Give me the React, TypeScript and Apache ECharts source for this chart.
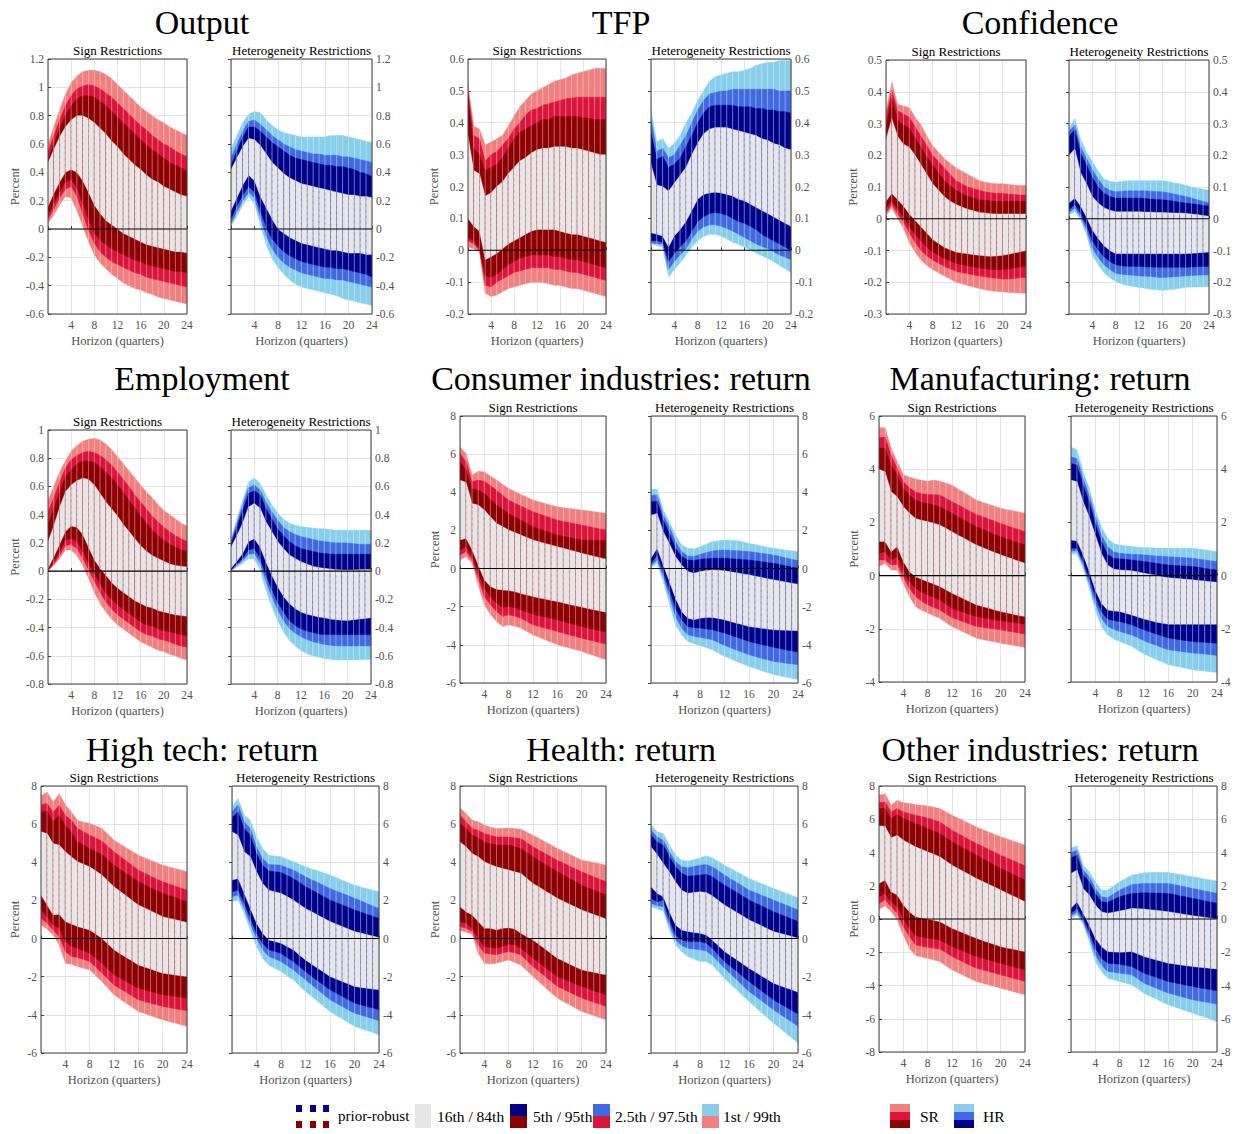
import React, { useEffect, useRef } from "react";
import * as echarts from "echarts";

// Forecast horizons (quarters)
const horizons = [0, 1, 2, 3, 4, 5, 6, 7, 8, 9, 10, 11, 12, 13, 14, 15, 16, 17, 18, 19, 20, 21, 22, 23, 24];

// Every band set lists its percentile paths in this order:
// 1st, 2.5th, 5th, 16th, 84th, 95th, 97.5th, 99th
const outputSR = [
  [0.04, 0.1, 0.17, 0.23, 0.22, 0.13, 0.02, -0.09, -0.18, -0.24, -0.28, -0.32, -0.35, -0.38, -0.4, -0.42, -0.43, -0.45, -0.46, -0.48, -0.49, -0.5, -0.51, -0.52, -0.53],
  [0.07, 0.14, 0.22, 0.28, 0.3, 0.23, 0.11, -0.01, -0.1, -0.16, -0.2, -0.23, -0.25, -0.27, -0.29, -0.31, -0.32, -0.34, -0.35, -0.36, -0.37, -0.38, -0.39, -0.4, -0.41],
  [0.1, 0.18, 0.26, 0.33, 0.35, 0.29, 0.18, 0.07, -0.03, -0.08, -0.11, -0.14, -0.16, -0.18, -0.2, -0.22, -0.23, -0.25, -0.26, -0.27, -0.28, -0.29, -0.3, -0.3, -0.31],
  [0.16, 0.25, 0.33, 0.4, 0.42, 0.4, 0.34, 0.26, 0.17, 0.11, 0.06, 0.03, 0.0, -0.03, -0.05, -0.07, -0.09, -0.11, -0.12, -0.13, -0.14, -0.15, -0.16, -0.16, -0.17],
  [0.47, 0.56, 0.65, 0.72, 0.77, 0.8, 0.8, 0.78, 0.75, 0.71, 0.67, 0.62, 0.58, 0.53, 0.49, 0.45, 0.42, 0.38, 0.35, 0.33, 0.3, 0.28, 0.26, 0.24, 0.23],
  [0.49, 0.6, 0.71, 0.8, 0.87, 0.92, 0.94, 0.94, 0.93, 0.9, 0.87, 0.83, 0.79, 0.75, 0.71, 0.67, 0.63, 0.59, 0.56, 0.53, 0.5, 0.47, 0.45, 0.43, 0.41],
  [0.55, 0.66, 0.77, 0.87, 0.94, 0.99, 1.01, 1.02, 1.01, 0.99, 0.96, 0.93, 0.89, 0.85, 0.81, 0.77, 0.73, 0.7, 0.66, 0.63, 0.6, 0.58, 0.55, 0.53, 0.51],
  [0.6, 0.72, 0.84, 0.95, 1.03, 1.08, 1.11, 1.12, 1.12, 1.11, 1.09, 1.06, 1.02, 0.98, 0.94, 0.9, 0.86, 0.83, 0.8, 0.77, 0.75, 0.72, 0.7, 0.68, 0.66],
];
const outputHR = [
  [0.02, 0.09, 0.17, 0.23, 0.18, 0.03, -0.11, -0.21, -0.27, -0.32, -0.36, -0.39, -0.41, -0.42, -0.43, -0.44, -0.45, -0.46, -0.47, -0.49, -0.5, -0.51, -0.52, -0.53, -0.54],
  [0.04, 0.12, 0.2, 0.26, 0.22, 0.08, -0.05, -0.14, -0.2, -0.24, -0.27, -0.29, -0.31, -0.32, -0.33, -0.34, -0.35, -0.35, -0.36, -0.36, -0.37, -0.38, -0.39, -0.4, -0.41],
  [0.07, 0.16, 0.24, 0.3, 0.26, 0.13, 0.01, -0.07, -0.12, -0.16, -0.19, -0.21, -0.23, -0.24, -0.25, -0.26, -0.27, -0.27, -0.28, -0.28, -0.29, -0.3, -0.31, -0.32, -0.34],
  [0.13, 0.22, 0.31, 0.38, 0.34, 0.23, 0.15, 0.07, 0.0, -0.03, -0.06, -0.08, -0.1, -0.11, -0.12, -0.13, -0.14, -0.15, -0.15, -0.16, -0.17, -0.17, -0.17, -0.18, -0.18],
  [0.42, 0.5, 0.58, 0.64, 0.63, 0.59, 0.53, 0.47, 0.43, 0.39, 0.36, 0.34, 0.32, 0.31, 0.3, 0.29, 0.28, 0.27, 0.26, 0.25, 0.24, 0.24, 0.23, 0.23, 0.22],
  [0.45, 0.55, 0.65, 0.72, 0.72, 0.69, 0.65, 0.61, 0.58, 0.55, 0.52, 0.5, 0.49, 0.48, 0.47, 0.46, 0.45, 0.45, 0.44, 0.44, 0.43, 0.42, 0.4, 0.39, 0.37],
  [0.5, 0.6, 0.69, 0.76, 0.77, 0.74, 0.7, 0.66, 0.63, 0.6, 0.58, 0.56, 0.55, 0.54, 0.53, 0.53, 0.52, 0.52, 0.52, 0.51, 0.51, 0.5, 0.49, 0.48, 0.47],
  [0.56, 0.66, 0.75, 0.81, 0.83, 0.82, 0.77, 0.73, 0.7, 0.68, 0.67, 0.66, 0.65, 0.65, 0.65, 0.65, 0.65, 0.66, 0.66, 0.66, 0.65, 0.64, 0.63, 0.62, 0.61],
];
const tfpSR = [
  [0.01, 0.005, -0.005, -0.135, -0.145, -0.14, -0.13, -0.12, -0.115, -0.11, -0.105, -0.1, -0.1, -0.1, -0.105, -0.11, -0.11, -0.115, -0.12, -0.12, -0.125, -0.13, -0.135, -0.14, -0.145],
  [0.03, 0.02, 0.0, -0.11, -0.115, -0.1, -0.09, -0.08, -0.07, -0.065, -0.06, -0.055, -0.055, -0.055, -0.055, -0.06, -0.06, -0.065, -0.07, -0.07, -0.075, -0.08, -0.085, -0.09, -0.095],
  [0.04, 0.03, 0.005, -0.08, -0.085, -0.075, -0.06, -0.045, -0.035, -0.025, -0.02, -0.015, -0.015, -0.015, -0.015, -0.02, -0.02, -0.025, -0.03, -0.03, -0.035, -0.04, -0.045, -0.05, -0.055],
  [0.1, 0.075, 0.06, -0.03, -0.02, -0.01, 0.005, 0.02, 0.03, 0.04, 0.05, 0.06, 0.065, 0.065, 0.065, 0.065, 0.06, 0.055, 0.05, 0.05, 0.045, 0.04, 0.035, 0.03, 0.025],
  [0.36, 0.25, 0.24, 0.17, 0.18, 0.2, 0.215, 0.24, 0.26, 0.28, 0.29, 0.305, 0.315, 0.32, 0.32, 0.325, 0.325, 0.325, 0.32, 0.32, 0.315, 0.31, 0.305, 0.3, 0.3],
  [0.48, 0.32, 0.3, 0.25, 0.26, 0.27, 0.29, 0.32, 0.35, 0.37, 0.38, 0.39, 0.4, 0.41, 0.41, 0.42, 0.42, 0.42, 0.42, 0.42, 0.415, 0.415, 0.41, 0.41, 0.41],
  [0.5, 0.36, 0.35, 0.28, 0.3, 0.31, 0.33, 0.35, 0.38, 0.4, 0.425, 0.44, 0.445, 0.455, 0.46, 0.465, 0.47, 0.475, 0.478, 0.48, 0.48, 0.48, 0.48, 0.48, 0.48],
  [0.52, 0.39, 0.38, 0.33, 0.34, 0.35, 0.36, 0.39, 0.42, 0.45, 0.47, 0.49, 0.5, 0.51, 0.52, 0.53, 0.535, 0.54, 0.55, 0.555, 0.56, 0.565, 0.57, 0.57, 0.57],
];
const tfpHR = [
  [0.02, 0.015, 0.01, -0.085, -0.06, -0.04, -0.015, 0.01, 0.03, 0.043, 0.05, 0.05, 0.045, 0.035, 0.025, 0.018, 0.01, 0.0, -0.008, -0.017, -0.025, -0.035, -0.047, -0.058, -0.07],
  [0.025, 0.02, 0.02, -0.06, -0.035, -0.015, 0.005, 0.035, 0.06, 0.073, 0.08, 0.08, 0.075, 0.068, 0.06, 0.05, 0.04, 0.03, 0.02, 0.012, 0.005, -0.005, -0.015, -0.022, -0.03],
  [0.03, 0.03, 0.025, -0.035, -0.01, 0.01, 0.03, 0.06, 0.09, 0.105, 0.115, 0.118, 0.115, 0.11, 0.1, 0.09, 0.085, 0.075, 0.065, 0.05, 0.04, 0.03, 0.02, 0.01, 0.0],
  [0.055, 0.05, 0.045, 0.01, 0.045, 0.065, 0.09, 0.125, 0.16, 0.175, 0.18, 0.182, 0.18, 0.175, 0.17, 0.16, 0.155, 0.145, 0.135, 0.125, 0.115, 0.105, 0.095, 0.085, 0.075],
  [0.27, 0.205, 0.2, 0.185, 0.21, 0.235, 0.26, 0.3, 0.335, 0.365, 0.38, 0.385, 0.385, 0.385, 0.38, 0.375, 0.37, 0.365, 0.36, 0.35, 0.345, 0.335, 0.33, 0.32, 0.315],
  [0.37, 0.285, 0.295, 0.26, 0.27, 0.29, 0.325, 0.36, 0.4, 0.43, 0.45, 0.455, 0.455, 0.455, 0.455, 0.45, 0.45, 0.45, 0.445, 0.445, 0.44, 0.44, 0.435, 0.435, 0.43],
  [0.41, 0.31, 0.32, 0.29, 0.3, 0.33, 0.36, 0.4, 0.44, 0.47, 0.49, 0.495, 0.5, 0.5, 0.505, 0.505, 0.505, 0.505, 0.505, 0.505, 0.505, 0.505, 0.5, 0.5, 0.5],
  [0.44, 0.34, 0.35, 0.32, 0.335, 0.36, 0.4, 0.43, 0.47, 0.5, 0.53, 0.545, 0.55, 0.555, 0.56, 0.56, 0.565, 0.57, 0.58, 0.585, 0.59, 0.59, 0.595, 0.595, 0.595],
];
const confidenceSR = [
  [0.01, 0.035, 0.0, -0.03, -0.075, -0.105, -0.13, -0.147, -0.16, -0.17, -0.18, -0.19, -0.2, -0.205, -0.21, -0.215, -0.22, -0.224, -0.227, -0.229, -0.23, -0.232, -0.233, -0.234, -0.235],
  [0.02, 0.045, 0.015, -0.01, -0.045, -0.075, -0.1, -0.117, -0.13, -0.14, -0.15, -0.158, -0.165, -0.17, -0.173, -0.177, -0.18, -0.183, -0.186, -0.188, -0.19, -0.19, -0.188, -0.186, -0.185],
  [0.035, 0.055, 0.03, 0.005, -0.025, -0.05, -0.07, -0.09, -0.105, -0.115, -0.125, -0.133, -0.14, -0.145, -0.148, -0.152, -0.155, -0.157, -0.16, -0.16, -0.16, -0.158, -0.155, -0.152, -0.15],
  [0.055, 0.08, 0.06, 0.04, 0.015, -0.005, -0.025, -0.045, -0.065, -0.078, -0.09, -0.098, -0.105, -0.108, -0.11, -0.113, -0.115, -0.117, -0.118, -0.117, -0.115, -0.112, -0.108, -0.104, -0.1],
  [0.25, 0.315, 0.26, 0.235, 0.225, 0.2, 0.17, 0.14, 0.11, 0.09, 0.07, 0.055, 0.045, 0.037, 0.03, 0.025, 0.02, 0.018, 0.016, 0.015, 0.015, 0.015, 0.015, 0.015, 0.015],
  [0.29, 0.38, 0.31, 0.295, 0.285, 0.255, 0.225, 0.195, 0.17, 0.145, 0.12, 0.105, 0.09, 0.08, 0.07, 0.065, 0.06, 0.058, 0.056, 0.055, 0.055, 0.055, 0.055, 0.055, 0.055],
  [0.32, 0.405, 0.34, 0.33, 0.32, 0.29, 0.26, 0.23, 0.2, 0.18, 0.16, 0.14, 0.12, 0.11, 0.1, 0.095, 0.09, 0.085, 0.082, 0.08, 0.08, 0.078, 0.076, 0.075, 0.075],
  [0.34, 0.43, 0.36, 0.355, 0.35, 0.32, 0.295, 0.26, 0.23, 0.21, 0.19, 0.175, 0.16, 0.15, 0.14, 0.13, 0.12, 0.115, 0.112, 0.11, 0.11, 0.108, 0.106, 0.105, 0.105],
];
const confidenceHR = [
  [0.012, 0.022, -0.004, -0.05, -0.115, -0.145, -0.17, -0.186, -0.198, -0.205, -0.21, -0.213, -0.216, -0.219, -0.222, -0.224, -0.225, -0.224, -0.222, -0.219, -0.216, -0.215, -0.215, -0.214, -0.214],
  [0.02, 0.033, 0.006, -0.035, -0.093, -0.122, -0.145, -0.16, -0.172, -0.175, -0.177, -0.178, -0.18, -0.181, -0.182, -0.184, -0.185, -0.184, -0.183, -0.182, -0.18, -0.179, -0.178, -0.177, -0.177],
  [0.028, 0.045, 0.017, -0.02, -0.07, -0.098, -0.12, -0.135, -0.145, -0.148, -0.15, -0.15, -0.15, -0.151, -0.152, -0.153, -0.153, -0.153, -0.153, -0.153, -0.153, -0.152, -0.151, -0.15, -0.15],
  [0.05, 0.065, 0.04, 0.005, -0.035, -0.062, -0.085, -0.1, -0.11, -0.11, -0.11, -0.11, -0.11, -0.11, -0.11, -0.11, -0.11, -0.11, -0.11, -0.11, -0.11, -0.109, -0.108, -0.106, -0.105],
  [0.2, 0.22, 0.145, 0.11, 0.07, 0.05, 0.035, 0.027, 0.022, 0.022, 0.022, 0.022, 0.022, 0.021, 0.021, 0.02, 0.02, 0.019, 0.018, 0.018, 0.017, 0.015, 0.013, 0.01, 0.008],
  [0.26, 0.28, 0.205, 0.17, 0.13, 0.1, 0.08, 0.07, 0.065, 0.065, 0.065, 0.065, 0.065, 0.064, 0.062, 0.061, 0.06, 0.058, 0.055, 0.052, 0.05, 0.047, 0.045, 0.042, 0.04],
  [0.275, 0.295, 0.225, 0.19, 0.155, 0.125, 0.1, 0.09, 0.085, 0.087, 0.088, 0.088, 0.088, 0.088, 0.087, 0.086, 0.085, 0.082, 0.078, 0.074, 0.07, 0.065, 0.06, 0.055, 0.05],
  [0.285, 0.315, 0.25, 0.21, 0.18, 0.15, 0.125, 0.118, 0.115, 0.117, 0.12, 0.12, 0.12, 0.12, 0.12, 0.12, 0.12, 0.117, 0.113, 0.11, 0.105, 0.1, 0.097, 0.093, 0.09],
];
const employmentSR = [
  [0.0, 0.04, 0.09, 0.15, 0.15, 0.11, 0.04, -0.05, -0.15, -0.23, -0.29, -0.34, -0.38, -0.41, -0.44, -0.47, -0.5, -0.52, -0.54, -0.56, -0.57, -0.59, -0.6, -0.62, -0.63],
  [0.005, 0.05, 0.11, 0.18, 0.19, 0.16, 0.09, 0.01, -0.07, -0.15, -0.22, -0.27, -0.31, -0.34, -0.37, -0.4, -0.43, -0.45, -0.46, -0.48, -0.49, -0.5, -0.52, -0.53, -0.54],
  [0.01, 0.07, 0.14, 0.22, 0.23, 0.21, 0.14, 0.06, -0.02, -0.09, -0.16, -0.2, -0.24, -0.27, -0.3, -0.33, -0.36, -0.38, -0.39, -0.41, -0.42, -0.43, -0.44, -0.45, -0.46],
  [0.02, 0.1, 0.19, 0.28, 0.32, 0.31, 0.26, 0.17, 0.08, 0.02, -0.03, -0.08, -0.12, -0.15, -0.18, -0.21, -0.23, -0.25, -0.26, -0.28, -0.29, -0.3, -0.31, -0.315, -0.32],
  [0.21, 0.32, 0.45, 0.56, 0.61, 0.64, 0.66, 0.65, 0.61, 0.55, 0.49, 0.44, 0.39, 0.33, 0.28, 0.23, 0.18, 0.14, 0.11, 0.09, 0.07, 0.05, 0.04, 0.035, 0.03],
  [0.33, 0.44, 0.56, 0.67, 0.72, 0.76, 0.78, 0.78, 0.77, 0.74, 0.7, 0.66, 0.61, 0.56, 0.5, 0.45, 0.39, 0.34, 0.29, 0.25, 0.22, 0.19, 0.17, 0.15, 0.14],
  [0.42, 0.52, 0.63, 0.73, 0.79, 0.82, 0.84, 0.85, 0.84, 0.82, 0.79, 0.75, 0.7, 0.65, 0.6, 0.54, 0.49, 0.44, 0.39, 0.35, 0.31, 0.28, 0.25, 0.23, 0.21],
  [0.5, 0.6, 0.7, 0.78, 0.85, 0.89, 0.92, 0.935, 0.94, 0.93, 0.9, 0.86, 0.81, 0.76, 0.71, 0.66, 0.61, 0.56, 0.52, 0.47, 0.43, 0.4, 0.37, 0.34, 0.32],
];
const employmentHR = [
  [0.0, 0.03, 0.055, 0.09, 0.085, 0.007, -0.135, -0.25, -0.35, -0.43, -0.49, -0.53, -0.56, -0.585, -0.6, -0.61, -0.62, -0.625, -0.63, -0.63, -0.63, -0.63, -0.628, -0.626, -0.625],
  [0.004, 0.04, 0.075, 0.12, 0.125, 0.055, -0.075, -0.18, -0.275, -0.35, -0.405, -0.44, -0.465, -0.485, -0.5, -0.51, -0.52, -0.525, -0.53, -0.53, -0.53, -0.53, -0.53, -0.53, -0.53],
  [0.007, 0.05, 0.09, 0.15, 0.16, 0.09, -0.03, -0.13, -0.22, -0.29, -0.35, -0.385, -0.41, -0.425, -0.435, -0.445, -0.45, -0.45, -0.45, -0.45, -0.45, -0.45, -0.45, -0.45, -0.45],
  [0.02, 0.07, 0.125, 0.21, 0.23, 0.17, 0.065, -0.03, -0.11, -0.18, -0.23, -0.265, -0.29, -0.305, -0.315, -0.325, -0.33, -0.34, -0.345, -0.348, -0.35, -0.345, -0.34, -0.335, -0.33],
  [0.17, 0.25, 0.34, 0.455, 0.48, 0.445, 0.35, 0.28, 0.21, 0.16, 0.115, 0.09, 0.067, 0.05, 0.035, 0.025, 0.02, 0.015, 0.01, 0.008, 0.007, 0.008, 0.01, 0.011, 0.012],
  [0.19, 0.31, 0.43, 0.55, 0.57, 0.54, 0.445, 0.37, 0.3, 0.25, 0.21, 0.18, 0.16, 0.15, 0.14, 0.13, 0.125, 0.122, 0.12, 0.12, 0.12, 0.12, 0.12, 0.12, 0.12],
  [0.21, 0.34, 0.47, 0.59, 0.61, 0.575, 0.49, 0.42, 0.36, 0.31, 0.28, 0.26, 0.245, 0.235, 0.225, 0.215, 0.21, 0.205, 0.2, 0.2, 0.2, 0.195, 0.19, 0.19, 0.19],
  [0.23, 0.37, 0.5, 0.63, 0.66, 0.62, 0.54, 0.47, 0.41, 0.37, 0.34, 0.325, 0.315, 0.31, 0.305, 0.3, 0.3, 0.295, 0.29, 0.29, 0.29, 0.29, 0.29, 0.29, 0.29],
];
const consumerSR = [
  [0.45, 0.63, 0.28, -0.86, -1.9, -2.4, -2.78, -3.04, -2.95, -3.03, -3.12, -3.3, -3.47, -3.6, -3.73, -3.86, -3.99, -4.08, -4.16, -4.25, -4.34, -4.45, -4.56, -4.67, -4.78],
  [0.71, 0.89, 0.45, -0.51, -1.47, -1.9, -2.25, -2.51, -2.42, -2.5, -2.6, -2.78, -2.95, -3.04, -3.13, -3.21, -3.3, -3.39, -3.48, -3.56, -3.65, -3.73, -3.81, -3.89, -3.96],
  [0.98, 1.15, 0.63, -0.24, -1.03, -1.5, -1.81, -2.04, -1.99, -2.06, -2.16, -2.28, -2.39, -2.47, -2.54, -2.62, -2.69, -2.78, -2.87, -2.95, -3.04, -3.11, -3.19, -3.26, -3.33],
  [1.5, 1.59, 0.98, 0.19, -0.59, -0.94, -1.08, -1.12, -1.15, -1.2, -1.31, -1.39, -1.47, -1.54, -1.6, -1.67, -1.73, -1.8, -1.88, -1.95, -2.02, -2.09, -2.16, -2.22, -2.29],
  [4.64, 4.51, 3.41, 3.33, 3.07, 2.72, 2.37, 2.2, 2.02, 1.89, 1.76, 1.63, 1.5, 1.41, 1.32, 1.24, 1.15, 1.06, 0.98, 0.89, 0.8, 0.72, 0.65, 0.57, 0.49],
  [5.6, 5.16, 4.17, 4.11, 3.94, 3.63, 3.33, 3.11, 2.89, 2.71, 2.54, 2.36, 2.19, 2.08, 1.97, 1.86, 1.76, 1.69, 1.63, 1.56, 1.5, 1.49, 1.48, 1.47, 1.46],
  [6.03, 5.6, 4.55, 4.64, 4.58, 4.35, 4.11, 3.85, 3.59, 3.43, 3.28, 3.13, 2.98, 2.87, 2.76, 2.65, 2.54, 2.47, 2.41, 2.35, 2.28, 2.22, 2.15, 2.08, 2.02],
  [6.38, 6.03, 4.9, 5.1, 5.07, 4.85, 4.64, 4.42, 4.2, 4.04, 3.89, 3.74, 3.59, 3.5, 3.41, 3.32, 3.24, 3.19, 3.15, 3.11, 3.07, 3.03, 2.98, 2.94, 2.9],
];
const consumerHR = [
  [0.05, 0.28, -0.68, -1.82, -2.95, -3.47, -3.82, -3.94, -4.03, -4.14, -4.26, -4.43, -4.6, -4.73, -4.87, -5.0, -5.13, -5.24, -5.35, -5.45, -5.56, -5.62, -5.69, -5.75, -5.82],
  [0.16, 0.45, -0.42, -1.47, -2.51, -3.12, -3.47, -3.55, -3.61, -3.67, -3.73, -3.88, -4.03, -4.15, -4.28, -4.4, -4.52, -4.61, -4.7, -4.78, -4.87, -4.91, -4.96, -5.0, -5.04],
  [0.28, 0.71, -0.16, -1.12, -2.08, -2.69, -3.04, -3.1, -3.12, -3.17, -3.21, -3.3, -3.38, -3.49, -3.6, -3.71, -3.82, -3.9, -3.98, -4.05, -4.13, -4.19, -4.26, -4.32, -4.38],
  [0.54, 1.06, 0.19, -0.68, -1.55, -2.25, -2.6, -2.69, -2.6, -2.57, -2.56, -2.62, -2.69, -2.78, -2.87, -2.95, -3.04, -3.08, -3.13, -3.17, -3.21, -3.22, -3.24, -3.25, -3.26],
  [2.8, 2.89, 1.93, 1.32, 0.63, 0.19, -0.16, -0.24, -0.16, -0.1, -0.07, -0.09, -0.12, -0.17, -0.22, -0.28, -0.33, -0.4, -0.46, -0.53, -0.59, -0.65, -0.71, -0.77, -0.82],
  [3.5, 3.54, 2.54, 1.85, 1.06, 0.63, 0.45, 0.42, 0.49, 0.52, 0.54, 0.54, 0.54, 0.52, 0.5, 0.47, 0.45, 0.41, 0.37, 0.32, 0.28, 0.22, 0.15, 0.08, 0.02],
  [3.85, 3.85, 2.8, 2.19, 1.41, 0.89, 0.66, 0.63, 0.75, 0.84, 0.92, 0.96, 0.98, 0.96, 0.94, 0.92, 0.89, 0.85, 0.8, 0.76, 0.71, 0.64, 0.56, 0.49, 0.42],
  [4.16, 4.16, 3.07, 2.46, 1.76, 1.24, 1.06, 1.03, 1.15, 1.28, 1.41, 1.46, 1.5, 1.49, 1.46, 1.4, 1.32, 1.26, 1.19, 1.12, 1.06, 1.02, 0.97, 0.93, 0.89],
];
const manufacturingSR = [
  [0.34, 0.46, 0.21, 0.21, -0.29, -0.79, -1.16, -1.3, -1.41, -1.51, -1.6, -1.76, -1.91, -2.02, -2.13, -2.24, -2.35, -2.4, -2.45, -2.49, -2.54, -2.58, -2.62, -2.66, -2.7],
  [0.59, 0.59, 0.4, 0.43, -0.04, -0.48, -0.79, -0.96, -1.1, -1.2, -1.29, -1.44, -1.58, -1.66, -1.75, -1.83, -1.91, -1.94, -1.98, -2.01, -2.04, -2.08, -2.12, -2.16, -2.2],
  [0.84, 0.9, 0.59, 0.71, 0.21, -0.23, -0.48, -0.62, -0.73, -0.82, -0.91, -1.07, -1.23, -1.31, -1.39, -1.46, -1.54, -1.58, -1.62, -1.66, -1.7, -1.73, -1.76, -1.79, -1.83],
  [1.28, 1.28, 0.9, 1.09, 0.53, 0.15, -0.04, -0.14, -0.23, -0.32, -0.41, -0.53, -0.66, -0.77, -0.88, -0.99, -1.1, -1.16, -1.22, -1.29, -1.35, -1.4, -1.45, -1.5, -1.54],
  [4.0, 3.9, 3.15, 2.96, 2.59, 2.35, 2.15, 2.08, 2.03, 1.97, 1.9, 1.78, 1.65, 1.52, 1.4, 1.27, 1.15, 1.06, 0.96, 0.87, 0.78, 0.7, 0.62, 0.54, 0.46],
  [4.81, 4.78, 4.15, 3.78, 3.28, 3.02, 2.84, 2.76, 2.71, 2.65, 2.59, 2.47, 2.34, 2.21, 2.09, 1.96, 1.84, 1.74, 1.65, 1.55, 1.46, 1.38, 1.3, 1.23, 1.15],
  [5.18, 5.21, 4.53, 4.03, 3.53, 3.3, 3.15, 3.08, 3.05, 3.04, 3.03, 2.91, 2.78, 2.66, 2.54, 2.42, 2.3, 2.22, 2.13, 2.05, 1.96, 1.88, 1.8, 1.73, 1.65],
  [5.56, 5.56, 4.78, 4.28, 3.8, 3.7, 3.63, 3.58, 3.55, 3.59, 3.55, 3.48, 3.4, 3.26, 3.12, 2.98, 2.84, 2.76, 2.68, 2.61, 2.53, 2.48, 2.44, 2.39, 2.34],
];
const manufacturingHR = [
  [0.84, 0.8, 0.28, -0.48, -1.29, -1.91, -2.23, -2.37, -2.48, -2.57, -2.66, -2.81, -2.95, -3.05, -3.15, -3.25, -3.35, -3.4, -3.44, -3.49, -3.54, -3.57, -3.59, -3.62, -3.64],
  [0.93, 0.93, 0.4, -0.29, -1.04, -1.6, -1.91, -2.02, -2.1, -2.17, -2.23, -2.34, -2.45, -2.54, -2.62, -2.71, -2.79, -2.82, -2.85, -2.88, -2.91, -2.93, -2.95, -2.98, -3.0],
  [1.03, 1.03, 0.53, -0.1, -0.79, -1.35, -1.63, -1.69, -1.73, -1.79, -1.85, -1.95, -2.04, -2.12, -2.2, -2.27, -2.35, -2.38, -2.42, -2.45, -2.48, -2.5, -2.51, -2.53, -2.54],
  [1.34, 1.3, 0.78, 0.15, -0.54, -1.04, -1.29, -1.33, -1.35, -1.42, -1.48, -1.56, -1.63, -1.69, -1.75, -1.79, -1.83, -1.83, -1.83, -1.83, -1.83, -1.83, -1.83, -1.83, -1.83],
  [3.59, 3.53, 2.78, 2.21, 1.53, 0.84, 0.4, 0.25, 0.21, 0.2, 0.18, 0.14, 0.09, 0.05, 0.01, -0.04, -0.08, -0.1, -0.12, -0.14, -0.16, -0.18, -0.2, -0.23, -0.25],
  [4.21, 4.15, 3.4, 2.78, 1.96, 1.28, 0.8, 0.65, 0.63, 0.61, 0.59, 0.56, 0.53, 0.5, 0.46, 0.43, 0.4, 0.38, 0.37, 0.35, 0.34, 0.31, 0.27, 0.24, 0.21],
  [4.46, 4.4, 3.65, 3.03, 2.21, 1.53, 1.09, 0.9, 0.84, 0.82, 0.8, 0.79, 0.78, 0.76, 0.74, 0.73, 0.71, 0.7, 0.68, 0.67, 0.65, 0.62, 0.59, 0.56, 0.53],
  [4.84, 4.71, 3.9, 3.28, 2.46, 1.84, 1.4, 1.21, 1.15, 1.12, 1.09, 1.07, 1.05, 1.05, 1.04, 1.04, 1.03, 1.03, 1.03, 1.03, 1.03, 1.0, 0.97, 0.93, 0.9],
];
const hightechSR = [
  [0.71, 0.5, 0.19, -0.33, -1.29, -1.34, -1.47, -1.56, -1.64, -1.95, -2.25, -2.6, -2.95, -3.17, -3.39, -3.6, -3.82, -3.93, -4.04, -4.15, -4.26, -4.35, -4.43, -4.52, -4.6],
  [1.06, 0.8, 0.45, 0.1, -0.68, -0.94, -0.99, -1.1, -1.2, -1.51, -1.81, -2.12, -2.43, -2.63, -2.82, -3.02, -3.21, -3.3, -3.39, -3.47, -3.56, -3.62, -3.68, -3.73, -3.79],
  [1.5, 1.15, 0.71, 0.54, -0.16, -0.42, -0.51, -0.64, -0.77, -1.03, -1.29, -1.6, -1.9, -2.08, -2.25, -2.43, -2.6, -2.69, -2.77, -2.86, -2.95, -2.99, -3.03, -3.08, -3.12],
  [2.28, 1.76, 1.24, 1.27, 0.89, 0.76, 0.63, 0.54, 0.45, 0.24, 0.02, -0.29, -0.59, -0.79, -0.99, -1.18, -1.38, -1.49, -1.6, -1.71, -1.82, -1.86, -1.91, -1.95, -1.99],
  [5.6, 5.51, 4.98, 4.9, 4.55, 4.29, 4.03, 3.9, 3.76, 3.55, 3.33, 3.03, 2.72, 2.48, 2.24, 2.0, 1.76, 1.61, 1.46, 1.3, 1.15, 1.07, 1.0, 0.92, 0.84],
  [6.64, 6.68, 6.12, 6.47, 5.94, 5.59, 5.07, 4.9, 4.72, 4.57, 4.41, 4.13, 3.85, 3.63, 3.41, 3.2, 2.98, 2.83, 2.67, 2.52, 2.37, 2.26, 2.15, 2.04, 1.93],
  [7.02, 7.08, 6.64, 6.99, 6.47, 6.2, 5.77, 5.6, 5.42, 5.27, 5.11, 4.83, 4.55, 4.31, 4.07, 3.83, 3.59, 3.44, 3.28, 3.13, 2.98, 2.87, 2.76, 2.65, 2.54],
  [7.48, 7.69, 7.16, 7.6, 7.02, 6.64, 6.2, 6.1, 6.03, 5.92, 5.77, 5.47, 5.16, 4.96, 4.76, 4.57, 4.37, 4.24, 4.11, 3.98, 3.85, 3.76, 3.67, 3.59, 3.5],
];
const hightechHR = [
  [1.93, 2.02, 1.32, 0.45, -0.42, -1.03, -1.38, -1.56, -1.73, -1.95, -2.16, -2.47, -2.77, -3.03, -3.3, -3.56, -3.82, -4.02, -4.21, -4.41, -4.6, -4.71, -4.82, -4.93, -5.04],
  [2.19, 2.28, 1.58, 0.75, 0.02, -0.59, -0.94, -1.07, -1.2, -1.42, -1.64, -1.9, -2.16, -2.42, -2.69, -2.95, -3.21, -3.39, -3.56, -3.74, -3.91, -4.01, -4.11, -4.21, -4.31],
  [2.46, 2.54, 1.85, 1.06, 0.28, -0.24, -0.59, -0.68, -0.77, -0.99, -1.2, -1.47, -1.73, -1.97, -2.21, -2.45, -2.69, -2.86, -3.03, -3.21, -3.38, -3.47, -3.56, -3.64, -3.73],
  [3.07, 3.15, 2.37, 1.58, 0.8, 0.28, -0.07, -0.16, -0.24, -0.42, -0.59, -0.86, -1.12, -1.34, -1.56, -1.77, -1.99, -2.12, -2.25, -2.38, -2.51, -2.56, -2.6, -2.65, -2.69],
  [5.6, 5.42, 4.55, 4.29, 3.5, 2.89, 2.54, 2.46, 2.37, 2.2, 2.02, 1.8, 1.58, 1.41, 1.24, 1.06, 0.89, 0.76, 0.63, 0.5, 0.37, 0.29, 0.21, 0.13, 0.05],
  [6.33, 6.64, 5.77, 5.42, 4.46, 3.85, 3.54, 3.5, 3.47, 3.31, 3.15, 2.94, 2.72, 2.55, 2.37, 2.2, 2.02, 1.89, 1.76, 1.63, 1.5, 1.39, 1.28, 1.17, 1.06],
  [6.64, 7.02, 6.12, 5.77, 4.81, 4.2, 3.89, 3.87, 3.85, 3.72, 3.59, 3.42, 3.24, 3.09, 2.94, 2.78, 2.63, 2.5, 2.37, 2.24, 2.11, 1.98, 1.84, 1.71, 1.58],
  [6.9, 7.34, 6.47, 6.2, 5.33, 4.72, 4.37, 4.33, 4.29, 4.16, 4.03, 3.9, 3.76, 3.65, 3.55, 3.44, 3.33, 3.2, 3.06, 2.93, 2.8, 2.71, 2.63, 2.54, 2.46],
];
const healthSR = [
  [0.42, 0.33, 0.23, -0.77, -1.29, -1.33, -1.29, -1.2, -1.12, -1.25, -1.38, -1.69, -1.99, -2.27, -2.56, -2.84, -3.12, -3.3, -3.47, -3.65, -3.82, -3.93, -4.04, -4.15, -4.26],
  [0.63, 0.54, 0.37, -0.33, -0.77, -0.81, -0.85, -0.76, -0.68, -0.76, -0.85, -1.16, -1.47, -1.73, -1.99, -2.25, -2.51, -2.66, -2.82, -2.97, -3.12, -3.23, -3.34, -3.45, -3.56],
  [0.89, 0.8, 0.54, 0.02, -0.42, -0.47, -0.51, -0.4, -0.3, -0.33, -0.51, -0.77, -1.03, -1.27, -1.51, -1.75, -1.99, -2.12, -2.25, -2.38, -2.51, -2.62, -2.73, -2.84, -2.95],
  [1.67, 1.41, 1.24, 0.89, 0.54, 0.54, 0.45, 0.54, 0.57, 0.5, 0.28, 0.1, -0.07, -0.31, -0.55, -0.79, -1.03, -1.18, -1.34, -1.49, -1.64, -1.71, -1.77, -1.84, -1.9],
  [5.07, 4.81, 4.46, 4.29, 4.03, 3.89, 3.76, 3.68, 3.59, 3.5, 3.42, 3.15, 2.89, 2.7, 2.5, 2.31, 2.11, 1.96, 1.8, 1.65, 1.5, 1.38, 1.26, 1.15, 1.03],
  [6.03, 5.77, 5.42, 5.28, 5.07, 4.98, 4.9, 4.9, 4.9, 4.81, 4.72, 4.5, 4.29, 4.09, 3.89, 3.7, 3.5, 3.33, 3.15, 2.98, 2.8, 2.67, 2.54, 2.41, 2.28],
  [6.47, 6.12, 5.77, 5.68, 5.51, 5.42, 5.33, 5.33, 5.33, 5.29, 5.25, 5.03, 4.81, 4.63, 4.46, 4.28, 4.11, 3.96, 3.8, 3.65, 3.5, 3.37, 3.24, 3.11, 2.98],
  [6.85, 6.55, 6.2, 6.12, 5.94, 5.85, 5.77, 5.78, 5.8, 5.77, 5.73, 5.58, 5.42, 5.25, 5.07, 4.9, 4.72, 4.57, 4.42, 4.26, 4.11, 4.05, 3.98, 3.92, 3.85],
];
const healthHR = [
  [1.67, 1.55, 1.45, 0.45, -0.33, -0.68, -0.94, -1.07, -1.2, -1.2, -1.38, -1.73, -2.08, -2.39, -2.69, -3.0, -3.3, -3.58, -3.87, -4.15, -4.43, -4.69, -4.95, -5.22, -5.48],
  [1.85, 1.72, 1.67, 0.71, -0.07, -0.37, -0.51, -0.55, -0.59, -0.65, -0.89, -1.22, -1.55, -1.86, -2.16, -2.47, -2.77, -3.01, -3.25, -3.49, -3.73, -3.95, -4.17, -4.38, -4.6],
  [2.11, 1.93, 2.02, 0.98, 0.19, -0.07, -0.16, -0.16, -0.16, -0.24, -0.51, -0.86, -1.2, -1.46, -1.72, -1.99, -2.25, -2.49, -2.73, -2.97, -3.21, -3.4, -3.58, -3.77, -3.96],
  [2.72, 2.37, 2.19, 1.41, 0.71, 0.45, 0.37, 0.32, 0.28, 0.19, -0.07, -0.38, -0.68, -0.9, -1.11, -1.33, -1.55, -1.75, -1.95, -2.14, -2.34, -2.46, -2.58, -2.69, -2.81],
  [4.81, 4.41, 3.94, 3.5, 2.98, 2.54, 2.37, 2.42, 2.46, 2.42, 2.25, 2.0, 1.76, 1.57, 1.37, 1.18, 0.98, 0.83, 0.68, 0.52, 0.37, 0.28, 0.2, 0.11, 0.02],
  [5.42, 5.07, 4.9, 4.29, 3.76, 3.42, 3.28, 3.3, 3.33, 3.37, 3.24, 3.02, 2.8, 2.61, 2.41, 2.22, 2.02, 1.87, 1.72, 1.56, 1.41, 1.28, 1.15, 1.02, 0.89],
  [5.68, 5.33, 5.16, 4.55, 4.03, 3.76, 3.71, 3.78, 3.85, 3.89, 3.76, 3.55, 3.33, 3.13, 2.94, 2.74, 2.54, 2.41, 2.28, 2.15, 2.02, 1.89, 1.76, 1.63, 1.5],
  [5.98, 5.6, 5.51, 4.9, 4.37, 4.11, 4.06, 4.14, 4.23, 4.34, 4.23, 4.04, 3.85, 3.68, 3.5, 3.33, 3.15, 3.02, 2.89, 2.76, 2.63, 2.51, 2.39, 2.26, 2.14],
];
const otherSR = [
  [0.58, 0.8, 0.44, -0.06, -0.96, -1.76, -2.2, -2.28, -2.36, -2.46, -2.56, -2.81, -3.06, -3.24, -3.41, -3.59, -3.76, -3.86, -3.96, -4.06, -4.16, -4.26, -4.36, -4.46, -4.56],
  [0.94, 1.14, 0.74, 0.34, -0.46, -1.06, -1.56, -1.64, -1.72, -1.76, -1.8, -2.03, -2.26, -2.44, -2.61, -2.79, -2.96, -3.06, -3.16, -3.26, -3.36, -3.46, -3.56, -3.66, -3.76],
  [1.34, 1.54, 1.04, 0.74, 0.04, -0.56, -1.0, -1.08, -1.16, -1.21, -1.26, -1.46, -1.66, -1.81, -1.96, -2.11, -2.26, -2.36, -2.46, -2.56, -2.66, -2.76, -2.86, -2.96, -3.06],
  [2.14, 2.34, 1.64, 1.44, 0.84, 0.44, 0.14, 0.06, 0.0, -0.08, -0.16, -0.36, -0.56, -0.71, -0.86, -1.01, -1.16, -1.29, -1.41, -1.54, -1.66, -1.74, -1.81, -1.89, -1.96],
  [5.6, 5.58, 4.88, 5.04, 4.74, 4.54, 4.34, 4.19, 4.04, 3.89, 3.74, 3.49, 3.24, 3.04, 2.84, 2.64, 2.44, 2.27, 2.09, 1.92, 1.74, 1.57, 1.39, 1.22, 1.04],
  [6.64, 6.64, 6.04, 6.28, 6.04, 5.89, 5.74, 5.59, 5.44, 5.29, 5.14, 4.89, 4.64, 4.44, 4.24, 4.04, 3.84, 3.64, 3.44, 3.24, 3.04, 2.87, 2.69, 2.52, 2.34],
  [7.0, 7.04, 6.44, 6.64, 6.44, 6.34, 6.24, 6.16, 6.08, 5.96, 5.84, 5.59, 5.34, 5.14, 4.94, 4.74, 4.54, 4.37, 4.19, 4.02, 3.84, 3.68, 3.52, 3.36, 3.2],
  [7.44, 7.54, 6.84, 7.14, 7.0, 6.94, 6.88, 6.84, 6.8, 6.72, 6.64, 6.44, 6.24, 6.07, 5.89, 5.72, 5.54, 5.39, 5.24, 5.09, 4.94, 4.82, 4.69, 4.57, 4.44],
];
const otherHR = [
  [0.08, 0.24, -0.32, -1.36, -2.56, -3.16, -3.56, -3.66, -3.76, -3.86, -3.96, -4.21, -4.46, -4.64, -4.81, -4.99, -5.16, -5.29, -5.41, -5.54, -5.66, -5.79, -5.91, -6.04, -6.16],
  [0.2, 0.4, -0.16, -1.06, -2.16, -2.76, -3.16, -3.21, -3.26, -3.31, -3.36, -3.61, -3.86, -4.01, -4.16, -4.31, -4.46, -4.56, -4.66, -4.76, -4.86, -4.93, -4.99, -5.06, -5.12],
  [0.34, 0.64, 0.04, -0.76, -1.76, -2.36, -2.66, -2.69, -2.72, -2.79, -2.86, -3.06, -3.26, -3.39, -3.51, -3.64, -3.76, -3.84, -3.91, -3.99, -4.06, -4.13, -4.19, -4.26, -4.32],
  [0.64, 1.04, 0.34, -0.36, -1.16, -1.66, -1.96, -1.98, -2.0, -1.98, -1.96, -2.11, -2.26, -2.36, -2.46, -2.56, -2.66, -2.71, -2.76, -2.81, -2.86, -2.9, -2.93, -2.97, -3.0],
  [2.74, 2.94, 1.84, 1.44, 0.84, 0.44, 0.34, 0.41, 0.48, 0.56, 0.64, 0.62, 0.6, 0.56, 0.52, 0.48, 0.44, 0.38, 0.32, 0.26, 0.2, 0.15, 0.1, 0.05, 0.0],
  [3.68, 3.84, 2.64, 2.24, 1.54, 1.04, 1.0, 1.17, 1.34, 1.44, 1.54, 1.56, 1.58, 1.57, 1.56, 1.55, 1.54, 1.47, 1.39, 1.32, 1.24, 1.17, 1.09, 1.02, 0.94],
  [4.0, 4.14, 2.94, 2.54, 1.84, 1.34, 1.28, 1.51, 1.74, 1.91, 2.08, 2.11, 2.14, 2.14, 2.14, 2.14, 2.14, 2.07, 1.99, 1.92, 1.84, 1.77, 1.69, 1.62, 1.54],
  [4.28, 4.4, 3.24, 2.84, 2.24, 1.74, 1.74, 1.99, 2.24, 2.44, 2.64, 2.71, 2.78, 2.79, 2.79, 2.8, 2.8, 2.74, 2.67, 2.61, 2.54, 2.48, 2.41, 2.35, 2.28],
];

// Panel titles and their y-axis ranges
const panelTitles = [
  "Output",
  "TFP",
  "Confidence",
  "Employment",
  "Consumer industries: return",
  "Manufacturing: return",
  "High tech: return",
  "Health: return",
  "Other industries: return",
];
const yMins = [-0.6, -0.2, -0.3, -0.8, -6, -4, -6, -6, -8];
const yMaxs = [1.2, 0.6, 0.5, 1, 8, 6, 8, 8, 8];
const ySteps = [0.2, 0.1, 0.1, 0.2, 2, 2, 2, 2, 2];
const srSets = [outputSR, tfpSR, confidenceSR, employmentSR, consumerSR, manufacturingSR, hightechSR, healthSR, otherSR];
const hrSets = [outputHR, tfpHR, confidenceHR, employmentHR, consumerHR, manufacturingHR, hightechHR, healthHR, otherHR];

const subplotTitles = ["Sign Restrictions", "Heterogeneity Restrictions"];
const legendLabels = ["prior-robust", "16th / 84th", "5th / 95th", "2.5th / 97.5th", "1st / 99th", "SR", "HR"];

// ---- styling / layout ----
const SERIF = "'Liberation Serif', 'Times New Roman', serif";
const TICK_GREY = "#505050";
const BOX = "#404040";
const GRID_LINE = "#e3e3e3";
const GREY_BAND = "#e6e6e6";
const SR_COLORS = ["#F08080", "#DC143C", "#8B0000"];
const HR_COLORS = ["#87CEEB", "#4169E1", "#00008B"];
const SR_DASH = "rgba(178, 92, 108, 0.6)";
const HR_DASH = "rgba(92, 92, 200, 0.6)";

const layouts = [
  { srL: 48, srR: 187, hrL: 231, hrR: 372, top: 59, bottom: 314, cx: 202, ty: 22, gap: 27 },
  { srL: 468, srR: 606, hrL: 651, hrR: 791, top: 59, bottom: 314, cx: 621, ty: 22, gap: 28 },
  { srL: 886, srR: 1026, hrL: 1069, hrR: 1209, top: 60, bottom: 314, cx: 1040, ty: 22, gap: 27 },
  { srL: 48, srR: 187, hrL: 231, hrR: 371, top: 430, bottom: 684, cx: 202, ty: 378, gap: 27 },
  { srL: 460, srR: 606, hrL: 651, hrR: 798, top: 416, bottom: 683, cx: 621, ty: 378, gap: 19 },
  { srL: 879, srR: 1025, hrL: 1071, hrR: 1217, top: 416, bottom: 682, cx: 1040, ty: 378, gap: 19 },
  { srL: 41, srR: 187, hrL: 232, hrR: 379, top: 786, bottom: 1053, cx: 202, ty: 749, gap: 20 },
  { srL: 460, srR: 606, hrL: 651, hrR: 798, top: 786, bottom: 1053, cx: 621, ty: 749, gap: 19 },
  { srL: 879, srR: 1025, hrL: 1071, hrR: 1217, top: 786, bottom: 1052, cx: 1040, ty: 749, gap: 19 },
];

// One item per horizon: [h, next h, 8 percentiles at h, 8 percentiles at next h]
function bandItems(bands: number[][]) {
  return horizons.map((h, i) => {
    const j = Math.min(i + 1, horizons.length - 1);
    return [h, horizons[j], ...bands.map((b) => b[i]), ...bands.map((b) => b[j])];
  });
}

function makeBandRenderer(colors: string[], dashColor: string) {
  const fills = [colors[0], colors[1], colors[2], GREY_BAND];
  return (_params: any, api: any) => {
    const h = api.value(0);
    const hn = api.value(1);
    const cur: number[] = [];
    const nxt: number[] = [];
    for (let k = 0; k < 8; k++) {
      cur.push(api.value(2 + k));
      nxt.push(api.value(10 + k));
    }
    const P = (x: number, y: number) => api.coord([x, y]);
    const children: any[] = [];
    if (hn > h) {
      // nested fills: 1-99, 2.5-97.5, 5-95, 16-84
      for (let k = 0; k < 4; k++) {
        const lo = k;
        const hi = 7 - k;
        children.push({
          type: "polygon",
          shape: { points: [P(h, cur[lo]), P(hn, nxt[lo]), P(hn, nxt[hi]), P(h, cur[hi])] },
          style: { fill: fills[k], stroke: fills[k], lineWidth: 0.4 },
        });
      }
    }
    if (h > 0 && h < 24) {
      const seam = { stroke: "rgba(255,255,255,0.4)", lineWidth: 0.8 };
      const a = P(h, cur[0]);
      const b = P(h, cur[3]);
      const c = P(h, cur[4]);
      const d = P(h, cur[7]);
      children.push({ type: "line", shape: { x1: a[0], y1: a[1], x2: b[0], y2: b[1] }, style: seam });
      children.push({ type: "line", shape: { x1: c[0], y1: c[1], x2: d[0], y2: d[1] }, style: seam });
      children.push({
        type: "line",
        shape: { x1: b[0], y1: b[1], x2: c[0], y2: c[1] },
        style: { stroke: dashColor, lineWidth: 0.6, lineDash: [2.5, 3.5] },
      });
    }
    return { type: "group", children };
  };
}

function frameRenderer(_params: any, api: any) {
  const p0 = api.coord([api.value(0), api.value(1)]);
  const p1 = api.coord([api.value(2), api.value(3)]);
  return {
    type: "rect",
    shape: { x: p0[0], y: p1[1], width: p1[0] - p0[0], height: p0[1] - p1[1] },
    style: { fill: "none", stroke: BOX, lineWidth: 1 },
  };
}

function textEl(text: string, x: number, y: number, size: number, align: string, color = "#000") {
  return {
    type: "text",
    x,
    y,
    silent: true,
    style: {
      text,
      font: `${size}px ${SERIF}`,
      fill: color,
      textAlign: align,
      align,
      textVerticalAlign: "middle",
      verticalAlign: "middle",
    },
  };
}

function rectEl(x: number, y: number, w: number, h: number, fill: string) {
  return { type: "rect", silent: true, shape: { x, y, width: w, height: h }, style: { fill } };
}

function buildOption() {
  const grid: any[] = [];
  const xAxis: any[] = [];
  const yAxis: any[] = [];
  const series: any[] = [];
  const graphic: any[] = [];

  panelTitles.forEach((title, i) => {
    const L = layouts[i];
    const subs = [
      { left: L.srL, right: L.srR, bands: srSets[i], colors: SR_COLORS, dash: SR_DASH, side: "left" },
      { left: L.hrL, right: L.hrR, bands: hrSets[i], colors: HR_COLORS, dash: HR_DASH, side: "right" },
    ];
    subs.forEach((s, j) => {
      const gi = grid.length;
      grid.push({ left: s.left, top: L.top, width: s.right - s.left, height: L.bottom - L.top, containLabel: false });
      xAxis.push({
        gridIndex: gi,
        type: "value",
        min: 0,
        max: 24,
        interval: 4,
        name: "Horizon (quarters)",
        nameLocation: "middle",
        nameGap: 20,
        nameTextStyle: { fontFamily: SERIF, fontSize: 12.5, color: TICK_GREY },
        axisLine: { show: false },
        axisTick: { show: true, inside: true, length: 3, lineStyle: { color: BOX } },
        axisLabel: {
          fontFamily: SERIF,
          fontSize: 11.5,
          color: TICK_GREY,
          margin: 5,
          formatter: (v: number) => (v === 0 ? "" : String(v)),
        },
        splitLine: { show: true, lineStyle: { color: GRID_LINE, width: 1 } },
      });
      yAxis.push({
        gridIndex: gi,
        type: "value",
        min: yMins[i],
        max: yMaxs[i],
        interval: ySteps[i],
        position: s.side,
        name: j === 0 ? "Percent" : "",
        nameLocation: "middle",
        nameGap: L.gap,
        nameTextStyle: { fontFamily: SERIF, fontSize: 12.5, color: TICK_GREY },
        axisLine: { show: false },
        axisTick: { show: true, inside: true, length: 3, lineStyle: { color: BOX } },
        axisLabel: { fontFamily: SERIF, fontSize: 11.5, color: TICK_GREY, margin: 4 },
        splitLine: { show: true, lineStyle: { color: GRID_LINE, width: 1 } },
      });
      series.push({
        type: "custom",
        xAxisIndex: gi,
        yAxisIndex: gi,
        silent: true,
        clip: true,
        z: 2,
        renderItem: makeBandRenderer(s.colors, s.dash),
        encode: { x: 0, y: 2 },
        data: bandItems(s.bands),
      });
      series.push({
        type: "line",
        xAxisIndex: gi,
        yAxisIndex: gi,
        silent: true,
        symbol: "none",
        z: 5,
        lineStyle: { color: "#000", width: 1.1 },
        data: [
          [0, 0],
          [24, 0],
        ],
      });
      series.push({
        type: "custom",
        xAxisIndex: gi,
        yAxisIndex: gi,
        silent: true,
        z: 6,
        renderItem: frameRenderer,
        encode: { x: 0, y: 1 },
        data: [[0, yMins[i], 24, yMaxs[i]]],
      });
      graphic.push(textEl(subplotTitles[j], (s.left + s.right) / 2, L.top - 9, 13, "center"));
    });
    graphic.push(textEl(title, L.cx, L.ty, 34, "center"));
  });

  // legend row
  const ly = 1116;
  [296, 310, 323].forEach((x) => {
    graphic.push(rectEl(x, 1105, 6, 7, HR_COLORS[2]));
    graphic.push(rectEl(x, 1121, 6, 7, SR_COLORS[2]));
  });
  graphic.push(textEl(legendLabels[0], 338, ly, 15, "left"));
  graphic.push(rectEl(415, 1104, 16, 24, GREY_BAND));
  graphic.push(textEl(legendLabels[1], 437, ly, 15.5, "left"));
  const pairs = [
    { x: 510, top: HR_COLORS[2], bot: SR_COLORS[2], tx: 533, label: legendLabels[2] },
    { x: 593, top: HR_COLORS[1], bot: SR_COLORS[1], tx: 615, label: legendLabels[3] },
    { x: 702, top: HR_COLORS[0], bot: SR_COLORS[0], tx: 723, label: legendLabels[4] },
  ];
  pairs.forEach((p) => {
    graphic.push(rectEl(p.x, 1104, 17, 12, p.top));
    graphic.push(rectEl(p.x, 1116, 17, 12, p.bot));
    graphic.push(textEl(p.label, p.tx, ly, 15.5, "left"));
  });
  [
    { x: 890, cols: SR_COLORS, tx: 920, label: legendLabels[5] },
    { x: 954, cols: HR_COLORS, tx: 983, label: legendLabels[6] },
  ].forEach((g) => {
    graphic.push(rectEl(g.x, 1104, 20, 8, g.cols[0]));
    graphic.push(rectEl(g.x, 1112, 20, 8, g.cols[1]));
    graphic.push(rectEl(g.x, 1120, 20, 8, g.cols[2]));
    graphic.push(textEl(g.label, g.tx, ly, 15.5, "left"));
  });

  return {
    animation: false,
    backgroundColor: "#ffffff",
    textStyle: { fontFamily: SERIF },
    grid,
    xAxis,
    yAxis,
    series,
    graphic,
  };
}

export default function App() {
  const ref = useRef<HTMLDivElement>(null);
  useEffect(() => {
    if (!ref.current) return;
    const chart = echarts.init(ref.current, undefined, { renderer: "svg" });
    chart.setOption(buildOption() as any);
    return () => chart.dispose();
  }, []);
  return (
    <div
      ref={ref}
      style={{ position: "absolute", left: 0, top: 0, width: 1236, height: 1134, background: "#fff" }}
    />
  );
}
